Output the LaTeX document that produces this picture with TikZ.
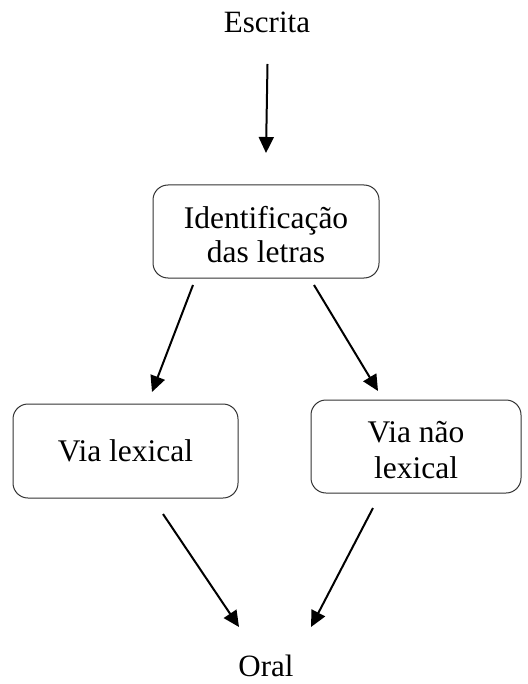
\documentclass[tikz,border=0pt]{standalone}
\usepackage{fontspec}
\setmainfont{Liberation Serif}
\usetikzlibrary{arrows.meta}
\begin{document}
\begin{tikzpicture}[x=1pt,y=-1pt,
  lbl/.style={font=\fontsize{31}{35}\selectfont, inner sep=0pt},
  boxline/.style={draw=black!80, line width=1pt, rounded corners=15pt},
  boxtext/.style={align=center, inner sep=0pt},
  arr/.style={line width=2pt, -{Triangle[length=16pt,width=15pt]}}]
\useasboundingbox (0,0) rectangle (527,684);
\node[lbl, anchor=base] (escrita) at (267,33) {Escrita};
\draw[boxline] (153,185) rectangle (379,278);
\node[boxtext, font=\fontsize{31.5}{34}\selectfont] (ident) at (266,235) {Identificação\\das letras};
\draw[boxline] (13,404) rectangle (238,498);
\node[boxtext, font=\fontsize{31.5}{34}\selectfont] (lex) at (125.5,451) {Via lexical};
\draw[boxline] (311,400) rectangle (521,493);
\node[boxtext, font=\fontsize{31.5}{36}\selectfont] (nlex) at (416,450) {Via não\\lexical};
\node[lbl, anchor=base] (oral) at (266,676) {Oral};
\coordinate (a1s) at (267.5,64); \coordinate (a1e) at (266,153);
\coordinate (a2s) at (193,285); \coordinate (a2e) at (152,392);
\coordinate (a3s) at (314,285); \coordinate (a3e) at (378,391);
\coordinate (a4s) at (163,514); \coordinate (a4e) at (239,627);
\coordinate (a5s) at (373,508); \coordinate (a5e) at (311,627);
\draw[arr] (a1s) -- (a1e);
\draw[arr] (a2s) -- (a2e);
\draw[arr] (a3s) -- (a3e);
\draw[arr] (a4s) -- (a4e);
\draw[arr] (a5s) -- (a5e);
\end{tikzpicture}
\end{document}
